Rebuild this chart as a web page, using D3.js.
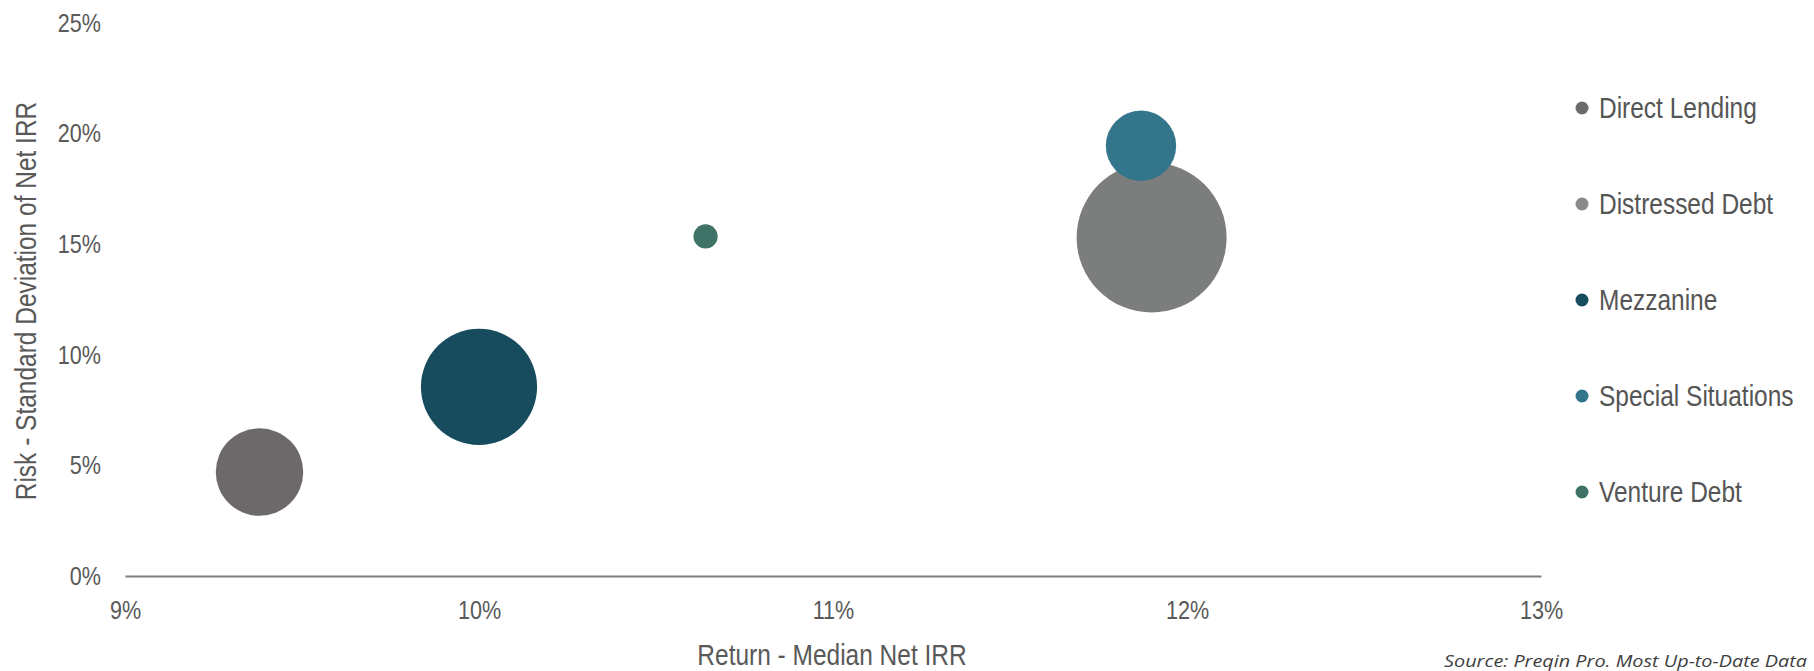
<!DOCTYPE html>
<html>
<head>
<meta charset="utf-8">
<script src="https://cdn.jsdelivr.net/npm/d3@7"></script>
<style>
  html, body { margin: 0; padding: 0; background: #ffffff; }
  svg { display: block; }
  .tick text { fill: #595959; }
</style>
</head>
<body>
<svg id="chart" width="1814" height="671"></svg>
<script>
// Private debt strategies: median net IRR vs. standard deviation of net IRR
const categories = ["Direct Lending", "Distressed Debt", "Mezzanine", "Special Situations", "Venture Debt"];
const medianReturn = [9.38, 11.90, 10.00, 11.87, 10.64];   // x, %
const riskStdDev   = [4.7, 15.3, 8.55, 19.45, 15.35];       // y, %
const bubbleSize   = [34, 100, 60, 22, 2.6];                 // relative bubble size
const seriesColors = ["#6d696a", "#7c7e7d", "#164c5e", "#33758b", "#3f7367"];
const legendColors = ["#6b6b6b", "#8a8a8a", "#164c5e", "#33758b", "#3f7367"];
const xTicks = [9, 10, 11, 12, 13];
const yTicks = [0, 5, 10, 15, 20, 25];

const FONT = "'Liberation Sans Narrow', 'Arial Narrow', 'Liberation Sans', sans-serif";
const NARROW = "scale(0.83,1)";   // horizontal condensing of the sans text
const svg = d3.select("#chart");

const x = d3.scaleLinear().domain([9, 13]).range([125, 1541]);
const y = d3.scaleLinear().domain([0, 25]).range([576, 23]);
const r = d3.scaleSqrt().domain([0, 100]).range([0, 75]);

const data = categories.map((c, i) => ({
  name: c, x: medianReturn[i], y: riskStdDev[i], s: bubbleSize[i], color: seriesColors[i]
}));

// x axis: baseline plus percentage labels
const xAxis = svg.append("g")
  .attr("transform", `translate(0,${y(0)})`)
  .call(d3.axisBottom(x).tickValues(xTicks).tickSize(0).tickSizeOuter(0).tickPadding(25)
    .tickFormat(d => d + "%"));
xAxis.select(".domain").attr("stroke", "#7f7f7f").attr("stroke-width", 2);
xAxis.selectAll(".tick text")
  .style("font-family", FONT).style("font-size", "26px")
  .attr("transform", NARROW);

// y axis: labels only
const yAxis = svg.append("g")
  .attr("transform", "translate(101,0)")
  .call(d3.axisLeft(y).tickValues(yTicks).tickSize(0).tickPadding(0)
    .tickFormat(d => d + "%"));
yAxis.select(".domain").remove();
yAxis.selectAll(".tick text")
  .style("font-family", FONT).style("font-size", "26px")
  .attr("transform", NARROW);

// bubbles
svg.append("g").selectAll("circle")
  .data(data)
  .join("circle")
  .attr("cx", d => x(d.x))
  .attr("cy", d => y(d.y))
  .attr("r", d => r(d.s))
  .attr("fill", d => d.color);

// axis titles
svg.append("text")
  .attr("transform", `translate(832,665) ${NARROW}`)
  .attr("text-anchor", "middle")
  .style("font-family", FONT).style("font-size", "29.5px").attr("fill", "#595959")
  .text("Return - Median Net IRR");

svg.append("text")
  .attr("transform", "translate(36,301) rotate(-90) scale(0.83,1)")
  .attr("text-anchor", "middle")
  .style("font-family", FONT).style("font-size", "29.5px").attr("fill", "#595959")
  .text("Risk - Standard Deviation of Net IRR");

// legend
const legend = svg.append("g").selectAll("g")
  .data(categories)
  .join("g")
  .attr("transform", (d, i) => `translate(1582,${108 + i * 96})`);
legend.append("circle").attr("r", 6.5).attr("fill", (d, i) => legendColors[i]);
legend.append("text")
  .attr("transform", `translate(17,0) ${NARROW}`)
  .attr("dy", "0.35em")
  .style("font-family", FONT).style("font-size", "29.5px").attr("fill", "#555555")
  .text(d => d);

// source note
svg.append("text")
  .attr("transform", "translate(1807,667) scale(1.24,1)")
  .attr("text-anchor", "end")
  .style("font-family", "'Open Sans', sans-serif").style("font-style", "italic")
  .style("font-size", "16px").attr("fill", "#404040")
  .text("Source: Preqin Pro. Most Up-to-Date Data");
</script>
</body>
</html>
